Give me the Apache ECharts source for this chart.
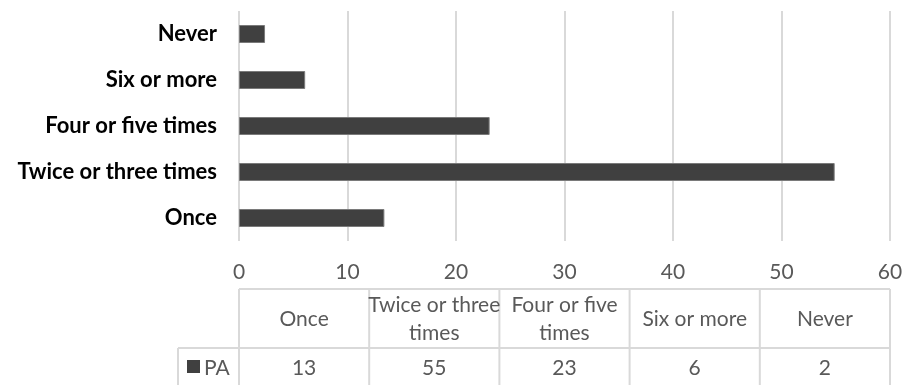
<!DOCTYPE html>
<html>
<head>
<meta charset="utf-8">
<script src="https://cdn.jsdelivr.net/npm/echarts@6/dist/echarts.min.js"></script>
<style>
html,body{margin:0;padding:0;background:#fff;}
#c{width:906px;height:385px;}
</style>
</head>
<body>
<div id="c"></div>
<script>
// ---- data ----
var categories = ['Once', 'Twice or three times', 'Four or five times', 'Six or more', 'Never'];
var seriesName = 'PA';
var barValues = [13.4, 54.9, 23.1, 6.1, 2.4];
var tableValues = ['13', '55', '23', '6', '2'];
var tableHeaders = ['Once', 'Twice or three\ntimes', 'Four or five\ntimes', 'Six or more', 'Never'];
var xTicks = [0, 10, 20, 30, 40, 50, 60];

// ---- layout ----
var FONT = 'Lato';
var gridLeft = 239, gridRight = 890, gridTop = 11, gridBottom = 241;
var tableTop = 289, tableMid = 348, tableBottom = 386, legendLeft = 178;
var lineCol = '#d9d9d9';
var textCol = '#595959';
var barCol = '#404040';

var chart = echarts.init(document.getElementById('c'), null, {renderer: 'canvas'});

var graphics = [];
var colW = (gridRight - gridLeft) / categories.length;
function line(x1, y1, x2, y2) {
  graphics.push({type: 'line', shape: {x1: x1, y1: y1, x2: x2, y2: y2},
    style: {stroke: lineCol, lineWidth: 2}, silent: true});
}
line(gridLeft, tableTop, gridRight, tableTop);
line(legendLeft, tableMid, gridRight, tableMid);
line(legendLeft, tableMid, legendLeft, tableBottom);
for (var i = 0; i <= categories.length; i++) {
  var x = gridLeft + i * colW;
  line(x, tableTop, x, tableBottom);
}
for (var j = 0; j < categories.length; j++) {
  var cx = gridLeft + (j + 0.5) * colW;
  graphics.push({type: 'text', x: cx, y: (tableTop + tableMid) / 2 + 1,
    style: {text: tableHeaders[j], fill: textCol, font: '21px ' + FONT, align: 'center',
      verticalAlign: 'middle', lineHeight: 28}, silent: true});
  graphics.push({type: 'text', x: cx, y: (tableMid + tableBottom) / 2 + 1,
    style: {text: tableValues[j], fill: textCol, font: '21px ' + FONT, align: 'center',
      verticalAlign: 'middle'}, silent: true});
}
graphics.push({type: 'rect', shape: {x: 187, y: 360, width: 13, height: 13}, style: {fill: barCol}, silent: true});
graphics.push({type: 'text', x: 204, y: 368, style: {text: seriesName, fill: textCol,
  font: '21px ' + FONT, align: 'left', verticalAlign: 'middle'}, silent: true});

chart.setOption({
  animation: false,
  backgroundColor: '#ffffff',
  grid: {left: gridLeft, top: gridTop, width: gridRight - gridLeft, height: gridBottom - gridTop, containLabel: false},
  xAxis: {
    type: 'value', min: xTicks[0], max: xTicks[xTicks.length - 1], interval: xTicks[1] - xTicks[0],
    axisLine: {show: false}, axisTick: {show: false},
    splitLine: {show: true, lineStyle: {color: lineCol, width: 2}},
    axisLabel: {color: textCol, fontFamily: FONT, fontSize: 21, margin: 21, lineHeight: 21}
  },
  yAxis: {
    type: 'category', data: categories,
    axisLine: {show: false}, axisTick: {show: false},
    axisLabel: {color: '#000', fontFamily: FONT, fontWeight: 'bold', fontSize: 22, margin: 22}
  },
  series: [{
    name: seriesName, type: 'bar', data: barValues, barWidth: 18,
    itemStyle: {color: barCol, borderColor: '#7a7a7a', borderWidth: 1}
  }],
  graphic: graphics
});
</script>
</body>
</html>
